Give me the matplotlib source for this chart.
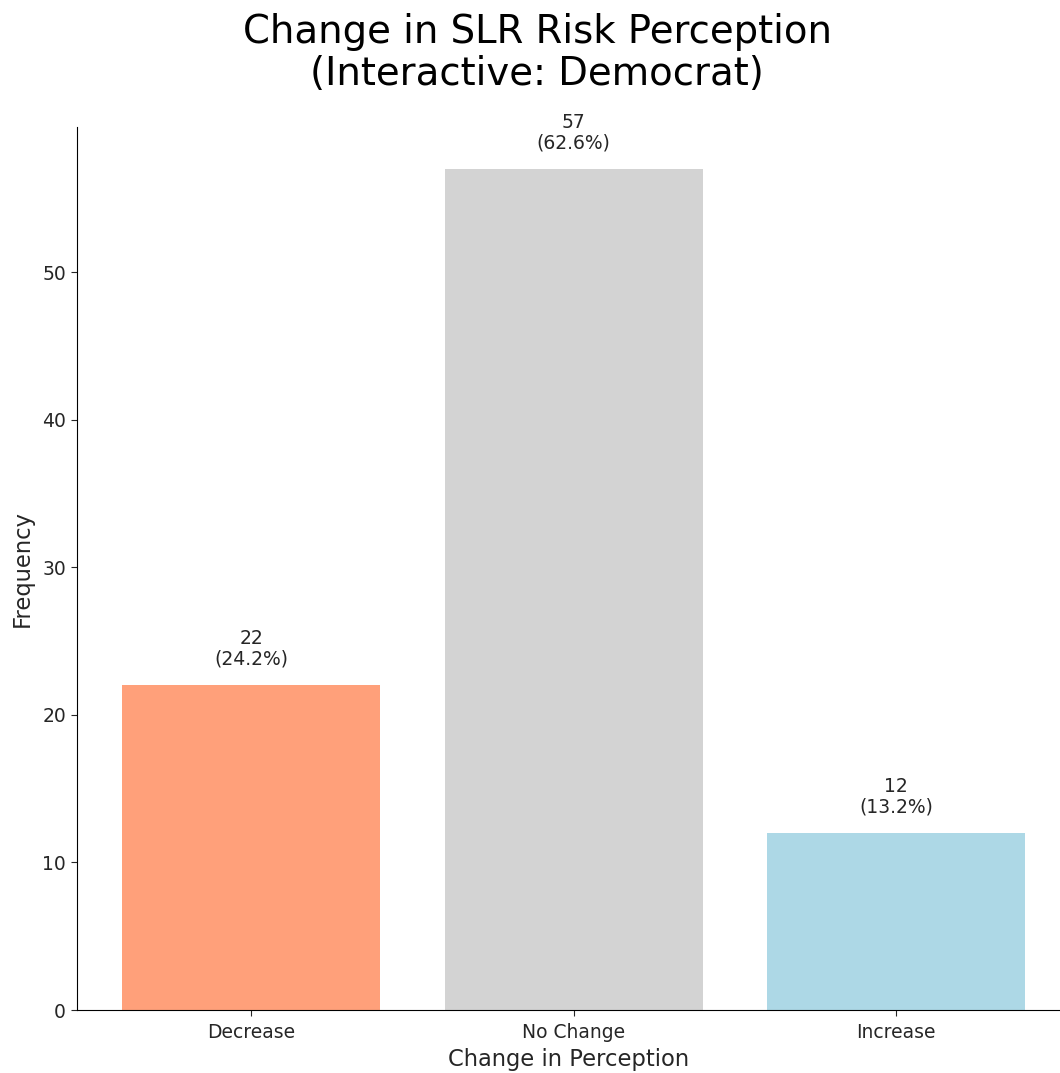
import matplotlib
matplotlib.use("Agg")
import matplotlib.pyplot as plt

categories = ["Decrease", "No Change", "Increase"]
counts = [22, 57, 12]
percents = [24.2, 62.6, 13.2]
colors = ["#FFA07A", "#D3D3D3", "#ADD8E6"]

tc = "#262626"
fig = plt.figure(figsize=(10.6, 10.73), dpi=100)
ax = fig.add_axes([77/1060, 63/1073, (1060-77)/1060, (1010-127)/1073])
x = list(range(len(categories)))
ax.bar(x, counts, color=colors, width=0.8)
for xi, c, p in zip(x, counts, percents):
    ax.annotate(f"{c}\n({p}%)", (xi, c), xytext=(0, 12), textcoords="offset points",
                ha="center", va="bottom", fontsize=13.5, color=tc, linespacing=1.1)
ax.set_xticks(x)
ax.set_xticklabels(categories, fontsize=13.5, color=tc)
ax.tick_params(axis="y", labelsize=13.5, labelcolor=tc)
ax.tick_params(colors=tc, length=4.5)
ax.tick_params(axis="x", pad=5)
ax.set_xlim(-0.54, 2.508)
ax.set_ylim(0, 59.85)
ax.spines["top"].set_visible(False)
ax.spines["right"].set_visible(False)
ax.set_xlabel("Change in Perception", fontsize=16.3, color=tc, labelpad=4)
ax.set_ylabel("Frequency", fontsize=16.3, color=tc, labelpad=6)
fig.text(537/1060, 1 - 53/1073, "Change in SLR Risk Perception\n(Interactive: Democrat)",
         fontsize=27.8, ha="center", va="center", linespacing=1.15)
fig.savefig("out.png", dpi=100)
